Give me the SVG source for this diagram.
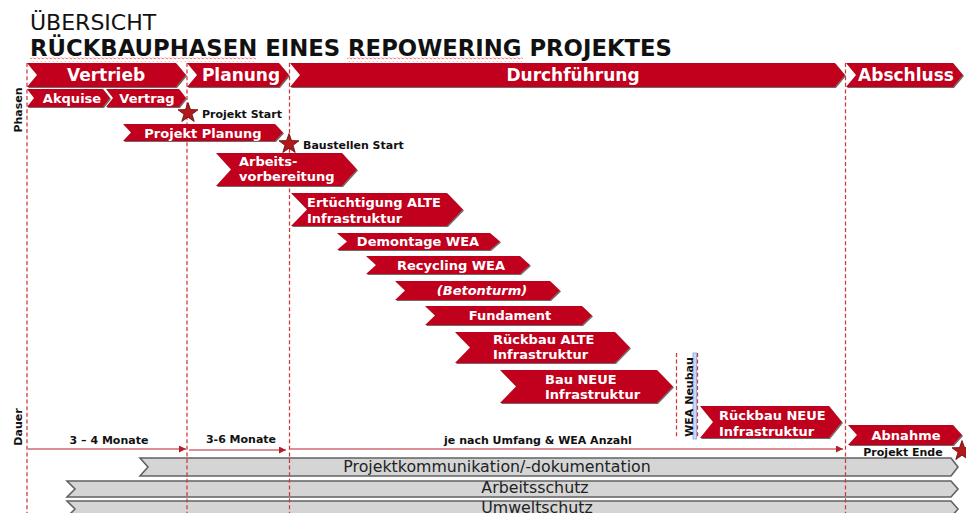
<svg xmlns="http://www.w3.org/2000/svg" width="966" height="513" viewBox="0 0 966 513">
  <defs>
    <style>
      .ch { fill: #c0001e; filter: url(#edge); }
      .bar { fill: #d5d5d5; stroke: #626262; stroke-width: 1.6; }
      .t { font-family: "DejaVu Sans", Verdana, sans-serif; }
      .w { fill: #ffffff; font-weight: bold; }
      .big { font-size: 17px; }
      .sm { font-size: 13px; }
      .note { font-size: 11px; font-weight: bold; fill: #111111; }
      .bt { font-size: 15.8px; fill: #222222; text-anchor: middle; }
      .mid { text-anchor: middle; }
      .guide { stroke: #cf3838; stroke-width: 1.25; stroke-dasharray: 4 2.6; fill: none; }
      .dur { stroke: #b3202a; stroke-width: 1.2; fill: none; marker-end: url(#ah); }
      .star { fill: #b21a1a; stroke: #5a0808; stroke-width: 0.8; }
    </style>
    <filter id="edge" x="-5%" y="-10%" width="110%" height="130%">
      <feOffset in="SourceAlpha" dx="0.9" dy="1.3" result="o"/>
      <feFlood flood-color="#6c6c6c"/>
      <feComposite in2="o" operator="in" result="s"/>
      <feMerge><feMergeNode in="s"/><feMergeNode in="SourceGraphic"/></feMerge>
    </filter>
    <marker id="ah" viewBox="0 0 10 10" refX="10" refY="5" markerWidth="8" markerHeight="7" markerUnits="userSpaceOnUse" orient="auto">
      <path d="M0,0 L10,5 L0,10 Z" fill="#b3202a"/>
    </marker>
    <path id="starShape" d="M0,-10.5 L2.5,-3.4 L10,-3.2 L4,1.3 L6.2,8.5 L0,4.2 L-6.2,8.5 L-4,1.3 L-10,-3.2 L-2.5,-3.4 Z"/>
    <pattern id="wave" width="4" height="4" patternUnits="userSpaceOnUse">
      <path d="M0,2.5 Q1,0.5 2,2 T4,2.5" fill="none" stroke="#e05a5a" stroke-width="0.8"/>
    </pattern>
  </defs>

  <rect width="966" height="513" fill="#ffffff"/>

  <!-- heading -->
  <g id="heading">
    <text class="t" x="30" y="30" font-size="22" fill="#111111">ÜBERSICHT</text>
    <text class="t" x="30" y="56" font-size="22.5" font-weight="bold" fill="#111111" textLength="642" lengthAdjust="spacingAndGlyphs">RÜCKBAUPHASEN EINES REPOWERING PROJEKTES</text>
    <rect x="30" y="57.5" width="226" height="4" fill="url(#wave)"/>
    <rect x="347" y="57.5" width="176" height="4" fill="url(#wave)"/>
  </g>

  <!-- row captions -->
  <g id="axis-labels">
    <text class="t note mid" transform="translate(22,110) rotate(-90)">Phasen</text>
    <text class="t note mid" transform="translate(22,427) rotate(-90)">Dauer</text>
  </g>

  <!-- cross-cutting tasks -->
  <g id="projektkommunikation">
    <polygon class="bar" points="140,458 951,458 958,467 951,476 140,476 148,467"/>
    <text class="t bt" x="497" y="472">Projektkommunikation/-dokumentation</text>
  </g>
  <g id="arbeitsschutz">
    <polygon class="bar" points="67,481 951,481 958,489 951,497 67,497 75,489"/>
    <text class="t bt" x="535" y="493">Arbeitsschutz</text>
  </g>
  <g id="umweltschutz">
    <polygon class="bar" points="67,501 951,501 958,509 951,517 67,517 75,509"/>
    <text class="t bt" x="537" y="513">Umweltschutz</text>
  </g>

  <!-- milestone guides and duration arrows -->
  <g id="connectors">
    <line class="guide" x1="27" y1="63" x2="27" y2="513"/>
    <line class="guide" x1="187" y1="63" x2="187" y2="513"/>
    <line class="guide" x1="289.5" y1="63" x2="289.5" y2="513"/>
    <line class="guide" x1="845.5" y1="63" x2="845.5" y2="513"/>
    <line class="guide" x1="676.5" y1="353" x2="676.5" y2="437"/>
    <line class="guide" x1="697.5" y1="353" x2="697.5" y2="437"/>
    <line class="dur" x1="28" y1="449" x2="186" y2="449"/>
    <line class="dur" x1="189" y1="450" x2="286" y2="450"/>
    <line class="dur" x1="290" y1="449" x2="843" y2="449"/>
  </g>

  <!-- duration labels -->
  <g id="dauer">
    <text class="t note mid" x="109" y="444">3 – 4 Monate</text>
    <text class="t note mid" x="241" y="443">3-6 Monate</text>
    <text class="t note mid" x="538" y="444">je nach Umfang &amp; WEA Anzahl</text>
  </g>

  <!-- main phases -->
  <g id="vertrieb">
    <polygon class="ch" points="27,63 176,63 186,75 176,87 27,87 37,75"/>
    <text class="t w big mid" x="106" y="81">Vertrieb</text>
  </g>
  <g id="planung">
    <polygon class="ch" points="187,63 279,63 289,75 279,87 187,87 197,75"/>
    <text class="t w big mid" x="241" y="81">Planung</text>
  </g>
  <g id="durchfuehrung">
    <polygon class="ch" points="290,63 835,63 845,75 835,87 290,87 300,75"/>
    <text class="t w big mid" x="573" y="81">Durchführung</text>
  </g>
  <g id="abschluss">
    <polygon class="ch" points="846,63 953,63 963,75 953,87 846,87 856,75"/>
    <text class="t w big mid" x="906" y="81">Abschluss</text>
  </g>

  <!-- sub phases -->
  <g id="akquise">
    <polygon class="ch" points="27,89 103,89 110,98 103,107 27,107 34,98"/>
    <text class="t w sm mid" x="72" y="102.5">Akquise</text>
  </g>
  <g id="vertrag">
    <polygon class="ch" points="106,89 179,89 186,98 179,107 106,107 113,98"/>
    <text class="t w sm mid" x="147" y="102.5">Vertrag</text>
  </g>

  <g id="projekt-start">
    <use href="#starShape" class="star" x="188" y="113"/>
    <text class="t note" x="202" y="118">Projekt Start</text>
  </g>

  <g id="projekt-planung">
    <polygon class="ch" points="123,124 275,124 283,132.5 275,141 123,141 131,132.5"/>
    <text class="t w sm mid" x="203" y="137.5">Projekt Planung</text>
  </g>

  <g id="baustellen-start">
    <use href="#starShape" class="star" x="289" y="144"/>
    <text class="t note" x="303" y="148.5">Baustellen Start</text>
  </g>

  <g id="arbeitsvorbereitung">
    <polygon class="ch" points="216,153 342,153 357,169.5 342,186 216,186 231,169.5"/>
    <text class="t w sm" x="239" y="166">Arbeits-</text>
    <text class="t w sm" x="239" y="181">vorbereitung</text>
  </g>

  <g id="ertuechtigung-alte-infrastruktur">
    <polygon class="ch" points="291,193 447,193 463,209.5 447,226 291,226 307,209.5"/>
    <text class="t w sm" x="307" y="207">Ertüchtigung ALTE</text>
    <text class="t w sm" x="307" y="222.5">Infrastruktur</text>
  </g>

  <g id="demontage-wea">
    <polygon class="ch" points="337,233 490,233 500,241.5 490,250 337,250 347,241.5"/>
    <text class="t w sm mid" x="418" y="246">Demontage WEA</text>
  </g>

  <g id="recycling-wea">
    <polygon class="ch" points="366,256 520,256 530,265 520,274 366,274 376,265"/>
    <text class="t w sm mid" x="451" y="269.5">Recycling WEA</text>
  </g>

  <g id="betonturm">
    <polygon class="ch" points="395,281 550,281 560,290.5 550,300 395,300 405,290.5"/>
    <text class="t w sm mid" x="482" y="295" font-style="italic">(Betonturm)</text>
  </g>

  <g id="fundament">
    <polygon class="ch" points="425,306 582,306 592,315.5 582,325 425,325 435,315.5"/>
    <text class="t w sm mid" x="510" y="320">Fundament</text>
  </g>

  <g id="rueckbau-alte-infrastruktur">
    <polygon class="ch" points="455,332 615,332 630,347.5 615,363 455,363 470,347.5"/>
    <text class="t w sm" x="493" y="344">Rückbau ALTE</text>
    <text class="t w sm" x="493" y="359">Infrastruktur</text>
  </g>

  <g id="bau-neue-infrastruktur">
    <polygon class="ch" points="500,370 657,370 673,386.5 657,403 500,403 516,386.5"/>
    <text class="t w sm" x="545" y="383.5">Bau NEUE</text>
    <text class="t w sm" x="545" y="399">Infrastruktur</text>
  </g>

  <g id="wea-neubau">
    <rect x="693" y="353" width="3.5" height="86" fill="#c9d9f5" stroke="#7fa2e0" stroke-width="0.8"/>
    <text class="t note mid" transform="translate(692.5,397) rotate(-90)">WEA Neubau</text>
  </g>

  <g id="rueckbau-neue-infrastruktur">
    <polygon class="ch" points="700,406 829,406 842,422 829,438 700,438 713,422"/>
    <text class="t w sm" x="719" y="420">Rückbau NEUE</text>
    <text class="t w sm" x="719" y="436">Infrastruktur</text>
  </g>

  <g id="abnahme">
    <polygon class="ch" points="848,425 953,425 962,435 953,445 848,445 857,435"/>
    <text class="t w sm mid" x="906" y="440">Abnahme</text>
  </g>

  <g id="projekt-ende">
    <text class="t note mid" x="903" y="455.5">Projekt Ende</text>
    <use href="#starShape" class="star" x="962" y="451"/>
  </g>
</svg>
